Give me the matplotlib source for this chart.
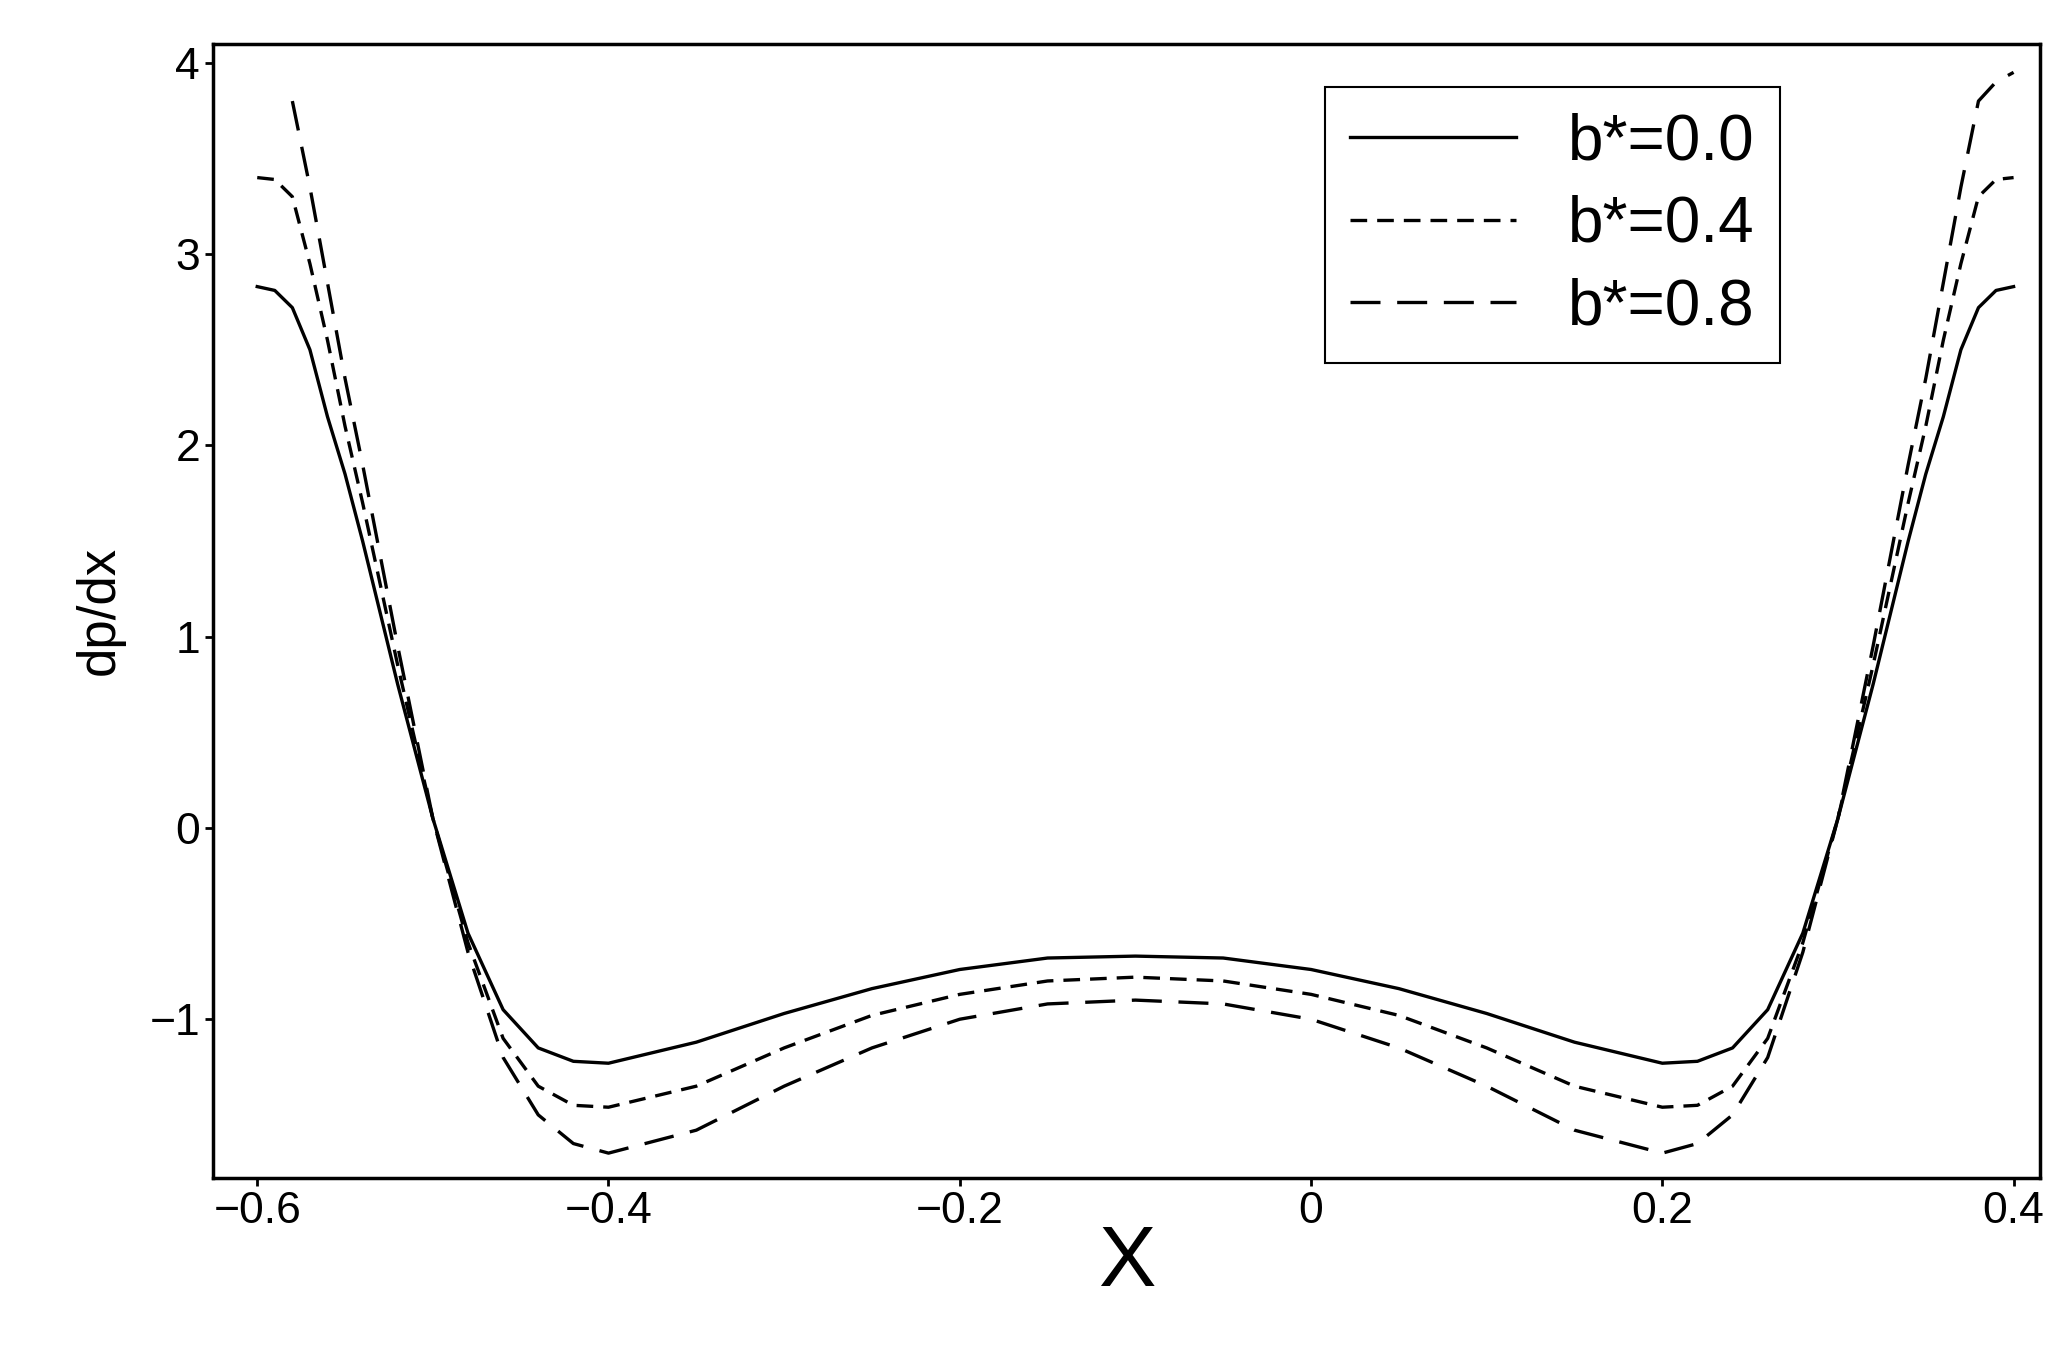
import numpy as np
import matplotlib
matplotlib.use("Agg")
import matplotlib.pyplot as plt

plt.rcParams['font.family'] = ['Liberation Sans', 'DejaVu Sans']

x_left = [-0.6, -0.59, -0.58, -0.57, -0.56, -0.55, -0.54, -0.52, -0.5, -0.48, -0.46, -0.44, -0.42, -0.4,
          -0.35, -0.3, -0.25, -0.2, -0.15, -0.1]
b00_left = [2.83, 2.81, 2.72, 2.5, 2.15, 1.85, 1.5, 0.75, 0.05, -0.55, -0.95, -1.15, -1.22, -1.23,
            -1.12, -0.97, -0.84, -0.74, -0.68, -0.67]
b04_left = [3.4, 3.39, 3.3, 2.95, 2.55, 2.1, 1.7, 0.85, 0.05, -0.6, -1.1, -1.35, -1.45, -1.46,
            -1.35, -1.15, -0.98, -0.87, -0.80, -0.78]
b08_left = [3.95, 3.9, 3.8, 3.35, 2.85, 2.35, 1.9, 0.95, 0.05, -0.65, -1.2, -1.5, -1.65, -1.7,
            -1.58, -1.35, -1.15, -1.0, -0.92, -0.9]
labels = ["b*=0.0", "b*=0.4", "b*=0.8"]

def full(xl, yl):
    xl = np.array(xl); yl = np.array(yl)
    xr = -0.2 - xl[:-1][::-1]
    return np.concatenate([xl, xr]), np.concatenate([yl, yl[:-1][::-1]])

fig = plt.figure(figsize=(20.71, 13.65), dpi=100)
ax = fig.add_axes([0.103, 0.137, 0.882, 0.831])

x0, y0 = full(x_left, b00_left)
x4, y4 = full(x_left, b04_left)
x8, y8 = full(x_left, b08_left)
m = x8 >= -0.585
ax.plot(x0, y0, color='black', lw=2.4, label=labels[0])
ax.plot(x4, y4, color='black', lw=2.4, dashes=(5, 3), label=labels[1])
ax.plot(x8[m], y8[m], color='black', lw=2.4, dashes=(9, 5), label=labels[2])

ax.set_xlim(-0.625, 0.415)
ax.set_ylim(-1.83, 4.1)
ax.set_xticks([-0.6, -0.4, -0.2, 0, 0.2, 0.4])
ax.set_xticklabels(["\u22120.6", "\u22120.4", "\u22120.2", "0", "0.2", "0.4"])
ax.set_yticks([-1, 0, 1, 2, 3, 4])
ax.set_yticklabels(["\u22121", "0", "1", "2", "3", "4"])
ax.tick_params(labelsize=32, width=2, length=6)
for s in ax.spines.values():
    s.set_linewidth(2.5)
ax.set_xlabel("X", fontsize=62, labelpad=-6)
ax.set_ylabel("dp/dx", fontsize=38, labelpad=18)
leg = ax.legend(loc='upper right', fontsize=46, fancybox=False, edgecolor='black',
                framealpha=1, handlelength=2.6, bbox_to_anchor=(0.875, 0.99),
                borderpad=0.4, labelspacing=0.35)
leg.get_frame().set_linewidth(1.5)
fig.savefig("out.png", dpi=100)
